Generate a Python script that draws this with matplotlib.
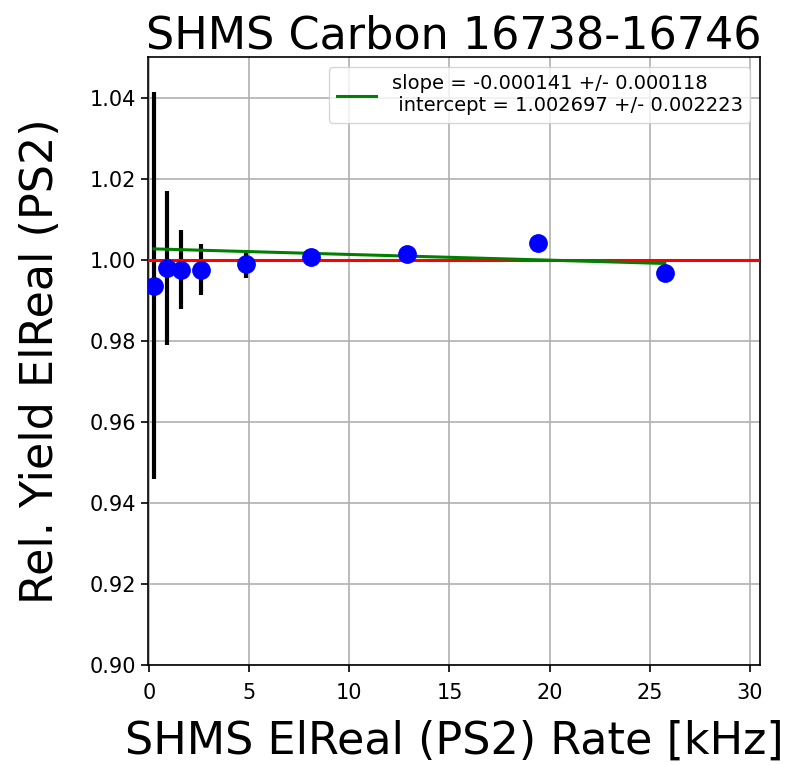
import matplotlib
matplotlib.use("Agg")
import matplotlib.pyplot as plt
import numpy as np

rate = [0.25, 0.9, 1.6, 2.6, 4.85, 8.1, 12.9, 19.4, 25.75]
yield_rel = [0.9936, 0.9980, 0.9975, 0.9975, 0.9990, 1.0007, 1.0015, 1.0040, 0.9968]
yield_err = [0.0478, 0.0190, 0.0097, 0.0063, 0.0035, 0.0015, 0.0010, 0.0008, 0.0008]
slope = -0.000141
slope_err = 0.000118
intercept = 1.002697
intercept_err = 0.002223

fig = plt.figure(figsize=(7.87, 7.65), dpi=100)
ax = fig.add_axes([148/787, 1-665/765, (760-148)/787, (665-57)/765])

ax.errorbar(rate, yield_rel, yerr=yield_err, fmt='none', ecolor='black', elinewidth=3, zorder=2)
ax.plot(rate, yield_rel, 'o', color='blue', markersize=12.5, zorder=4)
ax.axhline(1.0, color='red', linewidth=2.2, zorder=3)
xf = np.array([rate[0], rate[-1]])
ax.plot(xf, intercept + slope*xf, color='green', linewidth=2.2, zorder=3,
        label=f"slope = {slope:.6f} +/- {slope_err:.6f}\n intercept = {intercept:.6f} +/- {intercept_err:.6f}")

ax.set_xlim(-0.05, 30.5)
ax.set_ylim(0.90, 1.05)
ax.set_xticks([0, 5, 10, 15, 20, 25, 30])
ax.set_yticks([0.90, 0.92, 0.94, 0.96, 0.98, 1.00, 1.02, 1.04])
ax.grid(True, color='#b0b0b0', linewidth=1.2)
ax.set_axisbelow(True)
ax.tick_params(labelsize=15, width=1.2, length=5)
ax.tick_params(axis='x', pad=8)
for s in ax.spines.values():
    s.set_linewidth(1.2)
ax.set_title("SHMS Carbon 16738-16746", fontsize=32, pad=5)
ax.set_xlabel("SHMS ElReal (PS2) Rate [kHz]", fontsize=32, labelpad=12)
ax.set_ylabel("Rel. Yield ElReal (PS2)", fontsize=32, labelpad=20)
ax.legend(loc='upper right', fontsize=14, handlelength=2)

fig.savefig("out.png", dpi=100)
